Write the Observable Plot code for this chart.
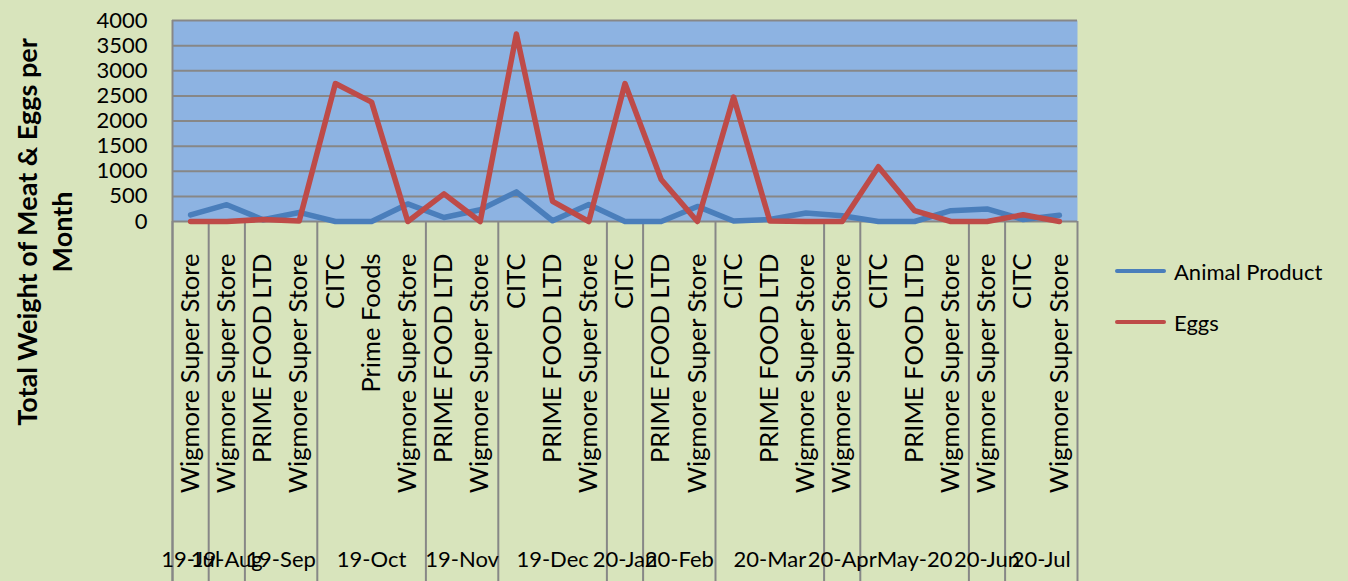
<!DOCTYPE html>
<html>
<head>
<meta charset="utf-8">
<script src="https://cdn.jsdelivr.net/npm/d3@7"></script>
<script src="https://cdn.jsdelivr.net/npm/@observablehq/plot@0.6"></script>
<style>
  html, body { margin: 0; padding: 0; background: #D8E4BC; overflow: hidden; }
  #wrap { position: relative; width: 1348px; height: 581px; }
  #legend { position: absolute; left: 1115px; top: 254px; font-family: Lato, sans-serif; font-size: 22px; color: #000; }
  .row { display: flex; align-items: center; height: 34px; margin-bottom: 17px; }
  .sw { width: 51px; height: 4px; border-radius: 2px; margin-right: 8px; }
</style>
</head>
<body>
<div id="wrap"><div id="legend"></div></div>
<script>
const categories = [
  "Wigmore Super Store", "Wigmore Super Store", "PRIME FOOD LTD", "Wigmore Super Store",
  "CITC", "Prime Foods", "Wigmore Super Store", "PRIME FOOD LTD", "Wigmore Super Store",
  "CITC", "PRIME FOOD LTD", "Wigmore Super Store", "CITC", "PRIME FOOD LTD",
  "Wigmore Super Store", "CITC", "PRIME FOOD LTD", "Wigmore Super Store", "Wigmore Super Store",
  "CITC", "PRIME FOOD LTD", "Wigmore Super Store", "Wigmore Super Store", "CITC", "Wigmore Super Store"
];
const animalProduct = [130, 335, 35, 180, 0, 0, 350, 80, 235, 590, 15, 340, 0, 0, 300, 10, 40, 170, 115, 0, 0, 215, 250, 40, 125];
const eggs = [0, 0, 40, 10, 2745, 2375, 0, 550, 0, 3730, 400, 0, 2745, 835, 0, 2475, 10, 0, 0, 1090, 215, 0, 0, 135, 0];
const months = ["19-Jul", "19-Aug", "19-Sep", "19-Oct", "19-Nov", "19-Dec", "20-Jan", "20-Feb", "20-Mar", "20-Apr", "May-20", "20-Jun", "20-Jul"];
const monthCounts = [1, 1, 2, 3, 2, 3, 1, 2, 3, 1, 3, 1, 2];
const yTicks = [0, 500, 1000, 1500, 2000, 2500, 3000, 3500, 4000];
const seriesNames = ["Animal Product", "Eggs"];
const seriesColors = ["#4A7EBB", "#BE4B48"];
const yTitle = "Total Weight of Meat & Eggs per\nMonth";

// derived tables
const catData = categories.map((c, i) => ({i, c}));
const lineData = [
  ...animalProduct.map((v, i) => ({series: seriesNames[0], i, v})),
  ...eggs.map((v, i) => ({series: seriesNames[1], i, v}))
];
const boundaries = [0];
const monthData = [];
let acc = 0;
months.forEach((m, k) => {
  monthData.push({m, mid: acc + monthCounts[k] / 2});
  acc += monthCounts[k];
  boundaries.push(acc);
});

const font = "Lato, sans-serif";
const chart = Plot.plot({
  width: 1348,
  height: 581,
  marginLeft: 172,
  marginRight: 271,
  marginTop: 20,
  marginBottom: 360,
  style: {background: "transparent", fontFamily: font, color: "#000"},
  x: {type: "linear", domain: [0, categories.length], axis: null},
  y: {domain: [0, 4000], ticks: yTicks, tickSize: 0, tickPadding: 25, label: null, tickFormat: d => String(d)},
  color: {domain: seriesNames, range: seriesColors},
  marks: [
    Plot.frame({fill: "#8DB3E2", stroke: null}),
    Plot.ruleY(yTicks, {stroke: "#878787", strokeWidth: 2}),
    Plot.ruleX([0], {stroke: "#878787", strokeWidth: 2, insetBottom: -360}),
    Plot.ruleX(boundaries, {x: d => d, stroke: "#878787", strokeWidth: 2, insetTop: 201, insetBottom: -360}),
    Plot.line(lineData, {x: d => d.i + 0.5, y: "v", z: "series", stroke: "series", strokeWidth: 5.5, strokeLinejoin: "round", strokeLinecap: "round"}),
    Plot.axisY({ticks: yTicks, tickSize: 0, tickPadding: 25, fontSize: 22, label: null, tickFormat: d => String(d)}),
    Plot.text(catData, {x: d => d.i + 0.5, text: "c", frameAnchor: "bottom", rotate: -90, textAnchor: "end", lineAnchor: "middle", dy: 32, fontSize: 25.5, fill: "#000"}),
    Plot.text(monthData, {x: "mid", text: "m", frameAnchor: "bottom", dy: 345, fontSize: 22, fill: "#000"}),
    Plot.text([yTitle], {frameAnchor: "left", dx: -129, dy: 111, rotate: -90, textAnchor: "middle", lineAnchor: "middle", lineHeight: 1.3, fontSize: 27, fontWeight: "bold", fill: "#000"})
  ]
});
document.getElementById("wrap").prepend(chart);

const legend = document.getElementById("legend");
seriesNames.forEach((n, k) => {
  const row = document.createElement("div");
  row.className = "row";
  const sw = document.createElement("div");
  sw.className = "sw";
  sw.style.background = seriesColors[k];
  const t = document.createElement("span");
  t.textContent = n;
  row.append(sw, t);
  legend.append(row);
});
</script>
</body>
</html>
